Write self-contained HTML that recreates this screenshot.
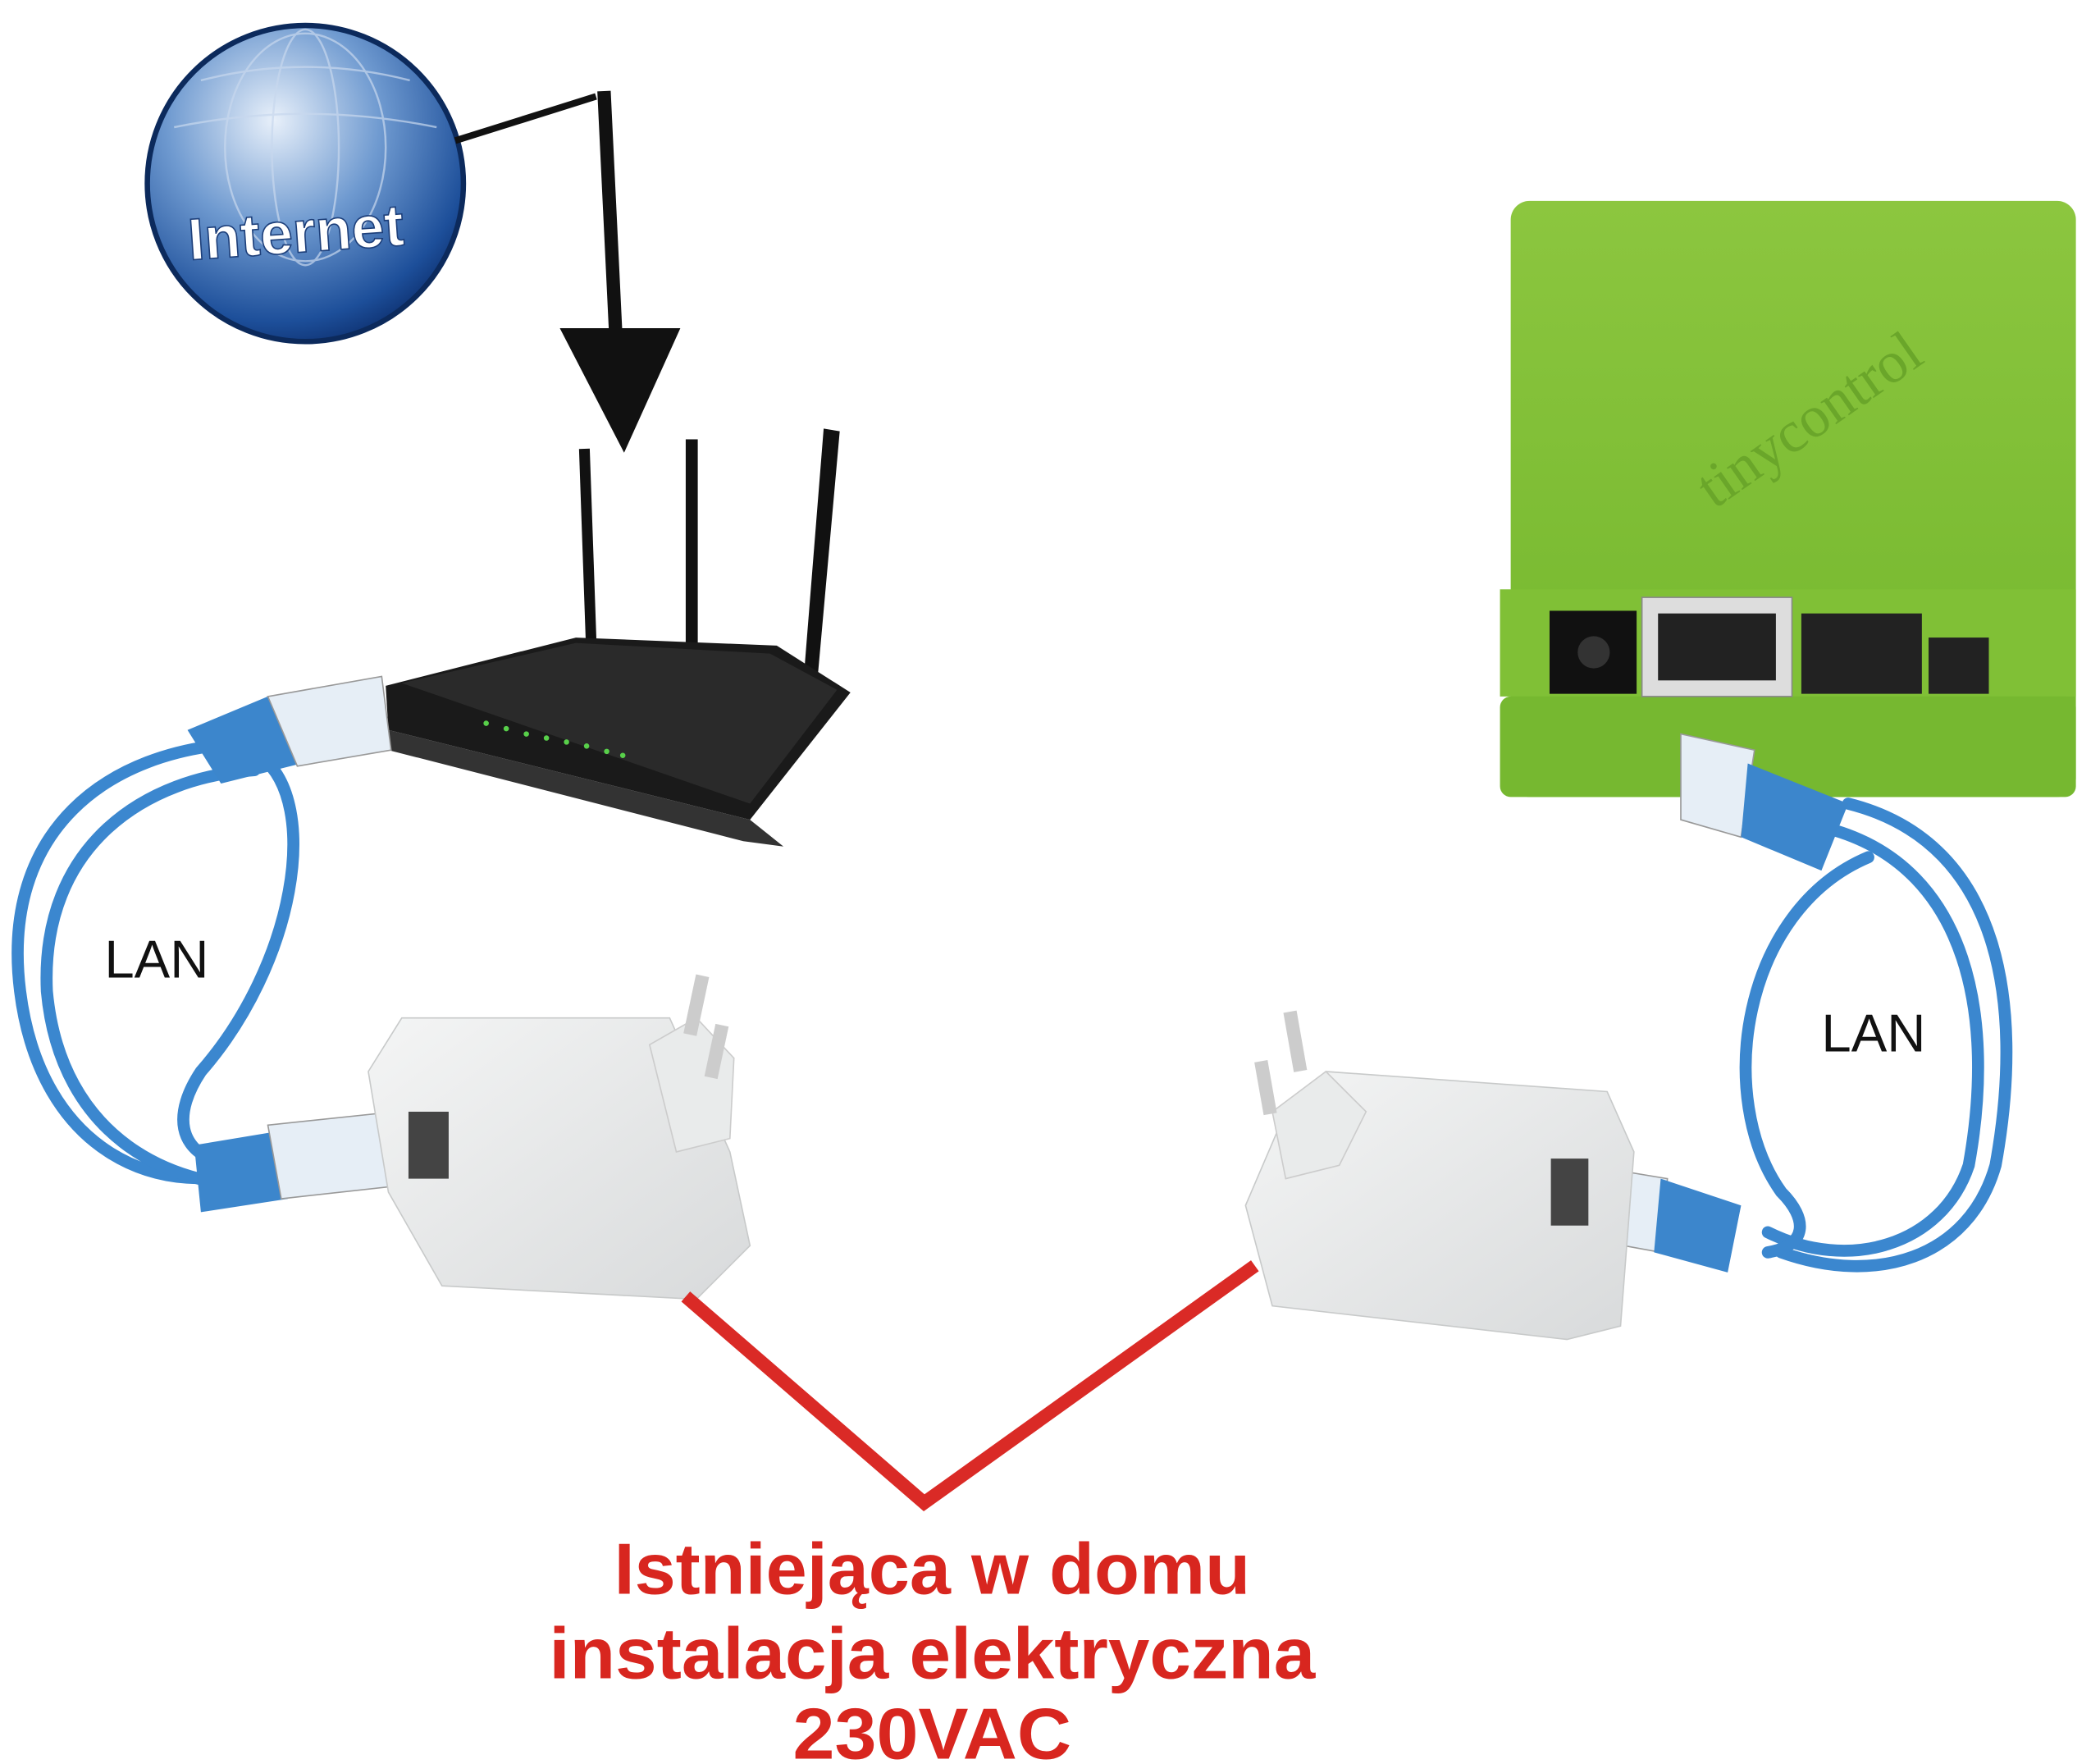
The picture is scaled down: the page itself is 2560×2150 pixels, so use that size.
<!DOCTYPE html>
<html><head><meta charset="utf-8"><style>
html,body{margin:0;padding:0;background:#fff;width:2560px;height:2150px;overflow:hidden}
svg{display:block}
</style></head><body>
<svg width="2560" height="2150" viewBox="0 0 1568 1317" preserveAspectRatio="none" xmlns="http://www.w3.org/2000/svg">
<defs>
<radialGradient id="gl" cx="0.4" cy="0.3" r="0.75">
<stop offset="0" stop-color="#e8f0fa"/><stop offset="0.45" stop-color="#6f9ad0"/><stop offset="0.85" stop-color="#1d4f9a"/><stop offset="1" stop-color="#0d2f6e"/></radialGradient>
<linearGradient id="gr" x1="0" y1="0" x2="0" y2="1"><stop offset="0" stop-color="#8cc63f"/><stop offset="1" stop-color="#72b62c"/></linearGradient>
<linearGradient id="wh" x1="0" y1="0" x2="1" y2="1"><stop offset="0" stop-color="#f4f5f5"/><stop offset="1" stop-color="#d8dadb"/></linearGradient>
</defs>
<!-- globe -->
<circle cx="228" cy="137" r="118" fill="url(#gl)" stroke="#0c2a5c" stroke-width="4"/>
<g stroke="#c8d8ee" stroke-width="1.5" fill="none" opacity="0.7">
<ellipse cx="228" cy="110" rx="60" ry="85"/><ellipse cx="228" cy="110" rx="25" ry="88"/>
<path d="M150 60 Q228 40 306 60"/><path d="M130 95 Q228 75 326 95"/>
</g>
<text x="140" y="188" font-family="Liberation Sans,sans-serif" font-weight="bold" font-size="44" fill="#fff" stroke="#1d3f7a" stroke-width="1" transform="rotate(-4 228 170)">Internet</text>
<!-- connector -->
<path d="M340 105 L445 72" stroke="#111" stroke-width="5" fill="none"/>
<path d="M451 68 L460 255" stroke="#111" stroke-width="10" fill="none"/>
<polygon points="418,245 508,245 466,338" fill="#111"/>
<!-- router antennas -->
<g fill="#111"><rect x="436" y="335" width="8" height="210" transform="rotate(-2 440 440)"/>
<rect x="512" y="328" width="9" height="190"/>
<polygon points="615,320 627,322 607,545 597,545"/></g>
<!-- router body -->
<polygon points="288,512 430,476 580,482 635,517 560,612 290,545" fill="#1a1a1a"/>
<polygon points="290,545 560,612 585,632 555,628 290,560" fill="#333"/>
<polygon points="300,510 430,480 575,488 625,515 560,600" fill="#2a2a2a"/>
<g fill="#58d04a"><circle cx="363" cy="540" r="2"/><circle cx="378" cy="544" r="2"/><circle cx="393" cy="548" r="2"/><circle cx="408" cy="551" r="2"/><circle cx="423" cy="554" r="2"/><circle cx="438" cy="557" r="2"/><circle cx="453" cy="561" r="2"/><circle cx="465" cy="564" r="2"/></g>
<!-- green box -->
<rect x="1128" y="150" width="422" height="445" rx="14" fill="url(#gr)"/>
<rect x="1120" y="440" width="430" height="80" fill="#80c036"/>
<rect x="1120" y="520" width="430" height="75" rx="8" fill="#76b830"/>
<text x="1220" y="330" font-family="Liberation Serif,serif" font-size="44" fill="#6aa62a" transform="rotate(-35 1330 260)">tinycontrol</text>
<rect x="1157" y="456" width="65" height="62" fill="#111"/><circle cx="1190" cy="487" r="12" fill="#333"/>
<rect x="1226" y="446" width="112" height="74" fill="#ddd" stroke="#888"/><rect x="1238" y="458" width="88" height="50" fill="#222"/>
<rect x="1345" y="458" width="90" height="60" fill="#222"/>
<rect x="1440" y="476" width="45" height="42" fill="#222"/>
<!-- cables -->
<g fill="none" stroke="#3b87cf" stroke-width="9" stroke-linecap="round">
<path d="M180 555 C 80 560, 0 620, 15 740 C 30 860, 120 900, 200 870"/>
<path d="M190 575 C 110 580, 30 630, 35 740 C 45 850, 130 890, 205 885"/>
<path d="M195 565 C 240 600, 220 720, 150 800 C 130 830, 130 860, 170 870"/>
<path d="M1380 600 C 1500 630, 1510 760, 1490 870 C 1470 940, 1400 960, 1330 935"/>
<path d="M1370 620 C 1470 650, 1490 760, 1470 870 C 1450 930, 1380 950, 1320 920"/>
<path d="M1395 640 C 1300 680, 1280 820, 1330 890 C 1350 910, 1350 930, 1320 935"/>
</g>
<!-- RJ45 plugs -->
<g>
<polygon points="140,545 200,520 225,570 165,585" fill="#3c86cc"/>
<polygon points="200,520 285,505 292,560 222,572" fill="#e6eef6" stroke="#999"/>
<polygon points="145,855 205,845 215,895 150,905" fill="#3c86cc"/>
<polygon points="200,840 295,830 300,885 210,895" fill="#e6eef6" stroke="#999"/>
<polygon points="1255,548 1310,560 1300,625 1255,612" fill="#e6eef6" stroke="#999"/>
<polygon points="1305,570 1380,600 1360,650 1300,625" fill="#3c86cc"/>
<polygon points="1185,870 1245,880 1240,935 1185,925" fill="#e6eef6" stroke="#999"/>
<polygon points="1240,880 1300,900 1290,950 1235,935" fill="#3c86cc"/>
</g>
<!-- left adapter -->
<polygon points="300,760 500,760 545,860 560,930 520,970 330,960 290,890 275,800" fill="url(#wh)" stroke="#c8caca"/>
<polygon points="485,780 520,760 548,790 545,850 505,860" fill="#e9ebeb" stroke="#ccc"/>
<rect x="515" y="728" width="10" height="45" fill="#ccc" transform="rotate(12 520 750)"/>
<rect x="530" y="765" width="10" height="40" fill="#ccc" transform="rotate(12 535 785)"/>
<rect x="305" y="830" width="30" height="50" fill="#444"/>
<!-- right adapter -->
<polygon points="990,800 1200,815 1220,860 1210,990 1170,1000 950,975 930,900 960,830" fill="url(#wh)" stroke="#c8caca"/>
<polygon points="950,830 990,800 1020,830 1000,870 960,880" fill="#e9ebeb" stroke="#ccc"/>
<rect x="962" y="755" width="10" height="45" fill="#ccc" transform="rotate(-10 967 777)"/>
<rect x="940" y="792" width="10" height="40" fill="#ccc" transform="rotate(-10 945 812)"/>
<rect x="1158" y="865" width="28" height="50" fill="#444"/>
<!-- LAN labels -->
<text x="78" y="730" font-family="Liberation Sans,sans-serif" font-size="40" fill="#111">LAN</text>
<text x="1360" y="785" font-family="Liberation Sans,sans-serif" font-size="40" fill="#111">LAN</text>
<!-- red line -->
<path d="M512 968 L690 1122 L937 945" stroke="#da2a26" stroke-width="10" fill="none"/>
<!-- red text -->
<g font-family="Liberation Sans,sans-serif" font-weight="bold" font-size="54" fill="#d8261f" text-anchor="middle">
<text x="696" y="1190" textLength="475" lengthAdjust="spacingAndGlyphs">Istniejąca w domu</text>
<text x="696" y="1253" textLength="572" lengthAdjust="spacingAndGlyphs">instalacja elektryczna</text>
<text x="696" y="1313" textLength="208" lengthAdjust="spacingAndGlyphs">230VAC</text>
</g>
</svg>
</body></html>
